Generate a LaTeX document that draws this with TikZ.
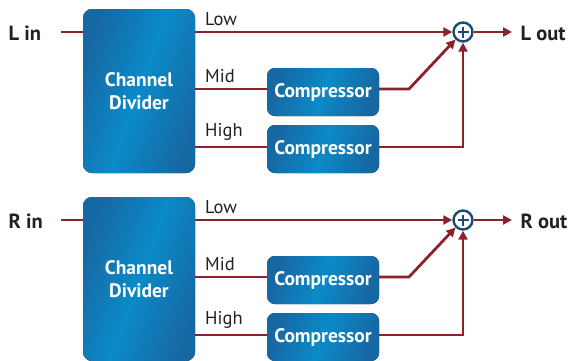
\documentclass[tikz,border=0pt]{standalone}
\usepackage{fontspec}
\setmainfont{PT Sans}
\usetikzlibrary{arrows.meta}
\definecolor{wire}{HTML}{8B2328}
\definecolor{blueDark}{HTML}{1668A3}
\definecolor{blueLight}{HTML}{0B8AC8}
\definecolor{sumNavy}{HTML}{1F4A78}
\definecolor{ink}{HTML}{231F20}
\tikzset{
  block/.style={rounded corners=9pt, draw=none,
    left color=blueDark, right color=blueDark, middle color=blueLight,
    shading angle=70},
  blocktext/.style={text=white, font=\fontsize{19.5}{23}\selectfont\bfseries, align=center},
  portlabel/.style={text=ink, font=\fontsize{20.5}{22}\selectfont\bfseries, anchor=west},
  bandlabel/.style={text=ink, font=\fontsize{18.5}{20}\selectfont, anchor=south west, inner sep=1pt},
  wireline/.style={draw=wire, line width=2.8pt},
  wirearrow/.style={wireline, -{Triangle[length=9pt,width=9pt]}},
  summer/.style={circle, draw=sumNavy, line width=2.4pt, minimum size=19pt, inner sep=0pt, fill=white}
}
\begin{document}
\begin{tikzpicture}[x=1pt,y=-1pt]
\useasboundingbox (0,0) rectangle (569,360);
\clip (0,0) rectangle (569,360);
\foreach \off/\side in {0/L,188/R}{
  \begin{scope}[yshift=-\off pt]
    % channel divider and compressors
    \fill[block] (83,9) rectangle (195,173);
    \node[blocktext] (div\side) at (139,91) {Channel\\Divider};
    \fill[block, rounded corners=8pt] (267,68) rectangle (379,116);
    \node[blocktext] (cm\side) at (323,92) {Compressor};
    \fill[block, rounded corners=8pt] (267,125) rectangle (379,173);
    \node[blocktext] (ch\side) at (323,149) {Compressor};
    % summing junction
    \node[summer] (sum\side) at (463,32) {};
    \draw[sumNavy, line width=2.4pt] (sum\side.center) ++(-5.5,0) -- ++(11,0)
      (sum\side.center) ++(0,-5.5) -- ++(0,11);
    % labels
    \node[portlabel] (in\side) at (5,33) {\side\ in};
    \node[portlabel] (out\side) at (517,33) {\side\ out};
    \node[bandlabel] at (204,27) {Low};
    \node[bandlabel] at (204,84) {Mid};
    \node[bandlabel] at (204,142) {High};
    % wiring
    \draw[wireline] (61,32) -- (83,32);
    \draw[wirearrow] (195,32) -- (sum\side.west);
    \draw[wireline] (195,89) -- (267,89);
    \draw[wireline] (195,147) -- (267,147);
    \draw[wirearrow] (379,89) -- (409,89) -- (sum\side.south west);
    \draw[wirearrow] (379,147) -- (463,147) -- (sum\side.south);
    \draw[wirearrow] (sum\side.east) -- (512,32);
  \end{scope}
}
\end{tikzpicture}
\end{document}
